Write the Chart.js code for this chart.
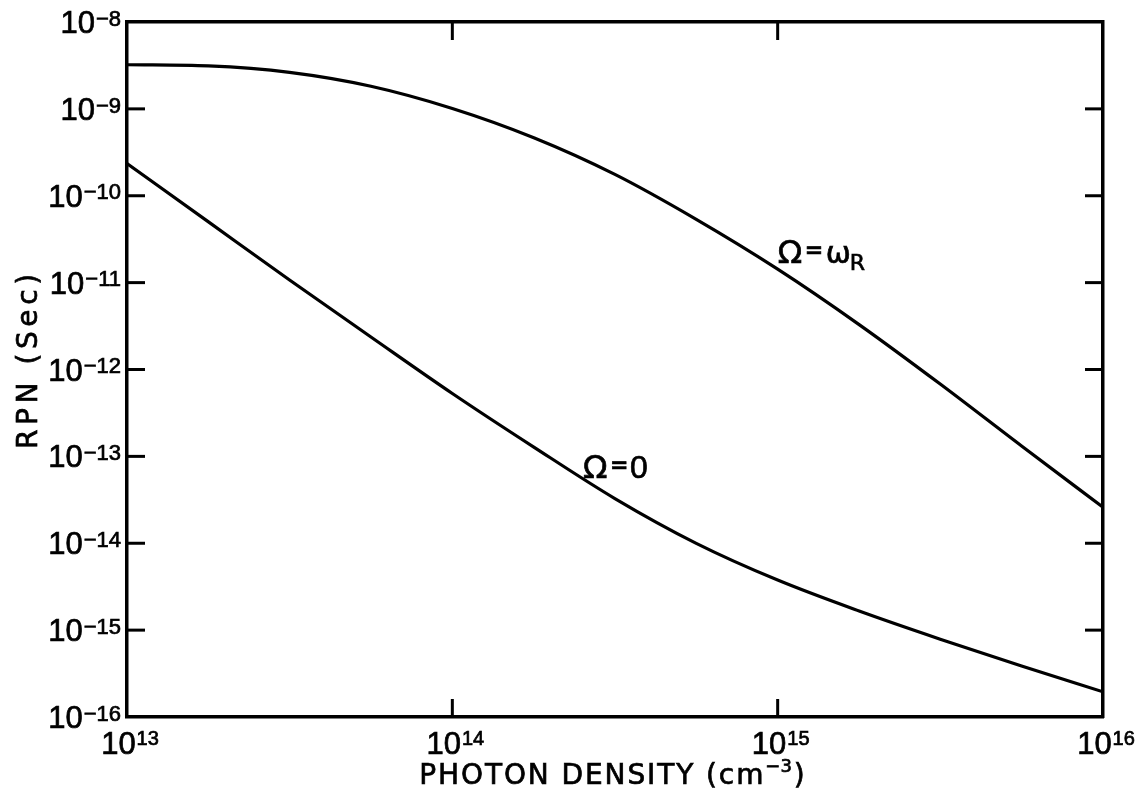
<!DOCTYPE html>
<html>
<head>
<meta charset="utf-8">
<script src="https://cdn.jsdelivr.net/npm/chart.js@4.4.1/dist/chart.umd.min.js"></script>
<style>
  html, body { margin: 0; padding: 0; background: #fff; }
  #wrap { width: 1145px; height: 809px; position: relative; }
</style>
</head>
<body>
<div id="wrap"><canvas id="rpnChart" width="1145" height="809"></canvas></div>
<script>
// Photon density (cm^-3), quarter-decade sample points shared by both curves
const photonDensity = [1e13, 1.78e13, 3.16e13, 5.62e13, 1e14, 1.78e14, 3.16e14, 5.62e14, 1e15, 1.78e15, 3.16e15, 5.62e15, 1e16];
// RPN (s) with modulation frequency at the relaxation resonance
const rpnResonant = [3.22e-9, 3.12e-9, 2.63e-9, 1.82e-9, 1.01e-9, 4.65e-10, 1.76e-10, 5.35e-11, 1.43e-11, 3.29e-12, 6.8e-13, 1.315e-13, 2.6e-14];
// RPN (s) at zero modulation frequency
const rpnZero = [2.35e-10, 5.0e-11, 1.07e-11, 2.37e-12, 5.3e-13, 1.28e-13, 3.27e-14, 9.98e-15, 3.77e-15, 1.66e-15, 7.87e-16, 3.86e-16, 1.95e-16];
// Decade exponents shown on the axes
const xTickExponents = [13, 14, 15, 16];
const yTickExponents = [-8, -9, -10, -11, -12, -13, -14, -15, -16];
const xTitle = 'PHOTON DENSITY (cm';
const xTitleUnitExp = '−3';
const yTitle = 'RPN (Sec)';

const INK = '#000';
const NUM_FONT = '"Liberation Sans", Arial, sans-serif';
const TXT_FONT = '"DejaVu Sans", "Liberation Sans", sans-serif';
const INK_SPREAD = 0.7;   // slight stroke to give the lettering a pen weight

function ink(ctx, s, x, y) {
  ctx.fillText(s, x, y);
  ctx.strokeText(s, x, y);
}

function expText(e) { return e < 0 ? '−' + Math.abs(e) : String(e); }

// "10" with a raised exponent; yMid is the vertical centre of the "10"
function drawPower(ctx, e, x, yMid, align, ss) {
  const bs = 31;
  ctx.font = bs + 'px ' + NUM_FONT;
  const wb = ctx.measureText('10').width;
  const es = expText(e);
  ctx.font = ss + 'px ' + NUM_FONT;
  const we = ctx.measureText(es).width;
  const gap = 1;
  const total = wb + gap + we;
  const x0 = align === 'right' ? x - total : x - total / 2;
  const capB = bs * 0.716, capS = ss * 0.716;
  ctx.textAlign = 'left';
  ctx.textBaseline = 'alphabetic';
  ctx.font = bs + 'px ' + NUM_FONT;
  ink(ctx, '10', x0, yMid + capB / 2);
  ctx.font = ss + 'px ' + NUM_FONT;
  ink(ctx, es, x0 + wb + gap, yMid - capB / 2 - 1 + capS);
}

function spacedWidth(ctx, str, s) {
  let w = 0;
  for (const ch of str) w += ctx.measureText(ch).width + s;
  return w - s;
}
function drawSpaced(ctx, str, x, y, s) {
  for (const ch of str) { ink(ctx, ch, x, y); x += ctx.measureText(ch).width + s; }
  return x - s;
}

const platePlugin = {
  id: 'plateText',
  afterDraw(chart) {
    const ctx = chart.ctx;
    const xs = chart.scales.x, ys = chart.scales.y;
    const { left, right, top, bottom } = chart.chartArea;
    ctx.save();
    ctx.fillStyle = INK;
    ctx.strokeStyle = INK;
    ctx.lineCap = 'butt';
    const seg = (a, b, c, d) => { ctx.lineWidth = 3; ctx.beginPath(); ctx.moveTo(a, b); ctx.lineTo(c, d); ctx.stroke(); ctx.lineWidth = INK_SPREAD; };

    // inward tick marks on all four sides, with decade labels
    const TL = 18;
    yTickExponents.forEach(e => {
      const py = ys.getPixelForValue(Number('1e' + e));
      if (e !== yTickExponents[0] && e !== yTickExponents[yTickExponents.length - 1]) {
        seg(left, py, left + TL, py);
        seg(right, py, right - TL, py);
      }
      ctx.lineWidth = INK_SPREAD;
      drawPower(ctx, e, left - 6, py, 'right', 22);
    });
    xTickExponents.forEach(e => {
      const px = xs.getPixelForValue(Number('1e' + e));
      if (e !== xTickExponents[0] && e !== xTickExponents[xTickExponents.length - 1]) {
        seg(px, bottom, px, bottom - TL);
        seg(px, top, px, top + TL);
      }
      ctx.lineWidth = INK_SPREAD;
      drawPower(ctx, e, px + 3, bottom + 26, 'center', 20);
    });
    ctx.lineWidth = INK_SPREAD;

    // x-axis title with superscript unit
    const ts = 28, sp = 1.9;
    ctx.textAlign = 'left';
    ctx.textBaseline = 'alphabetic';
    ctx.font = ts + 'px ' + TXT_FONT;
    const wMain = spacedWidth(ctx, xTitle, sp);
    const wParen = ctx.measureText(')').width;
    ctx.font = '18px ' + TXT_FONT;
    const wSup = ctx.measureText(xTitleUnitExp).width;
    const totalW = wMain + sp + wSup + 2 + wParen;
    const cx = (left + right) / 2 - 3;
    const base = bottom + 67;
    let px = cx - totalW / 2;
    ctx.font = ts + 'px ' + TXT_FONT;
    px = drawSpaced(ctx, xTitle, px, base, sp) + sp;
    ctx.font = '18px ' + TXT_FONT;
    ink(ctx, xTitleUnitExp, px, base - 12);
    px += wSup + 2;
    ctx.font = ts + 'px ' + TXT_FONT;
    ink(ctx, ')', px, base);

    // y-axis title, rotated
    ctx.save();
    ctx.translate(left - 100, (top + bottom) / 2 - 8);
    ctx.rotate(-Math.PI / 2);
    ctx.font = ts + 'px ' + TXT_FONT;
    const spY = 4.6;
    const wy = spacedWidth(ctx, yTitle, spY);
    drawSpaced(ctx, yTitle, -wy / 2, ts * 0.729 / 2, spY);
    ctx.restore();

    // curve annotations
    const a1x = xs.getPixelForValue(1.0e15), a1y = ys.getPixelForValue(1.68e-11);
    ctx.font = '32px ' + TXT_FONT;
    ink(ctx, 'Ω', a1x, a1y);
    ctx.font = 'bold 22px ' + TXT_FONT;
    ink(ctx, '=', a1x + 27, a1y - 6);
    ctx.font = '30px ' + TXT_FONT;
    ink(ctx, 'ω', a1x + 48, a1y);
    ctx.font = '22px ' + TXT_FONT;
    ink(ctx, 'R', a1x + 72, a1y + 7);

    const a2x = xs.getPixelForValue(2.52e14), a2y = ys.getPixelForValue(5.67e-14);
    ctx.font = '32px ' + TXT_FONT;
    ink(ctx, 'Ω', a2x, a2y);
    ctx.font = 'bold 22px ' + TXT_FONT;
    ink(ctx, '=', a2x + 27, a2y - 6);
    ctx.font = '32px ' + NUM_FONT;
    ink(ctx, '0', a2x + 47, a2y);

    ctx.restore();
  }
};

function logAxis(axis, position, min, max) {
  return {
    type: 'logarithmic', axis, position, min, max, display: true,
    ticks: { display: false },
    grid: { display: false, drawTicks: false },
    border: { display: true, color: INK, width: 3.5 }
  };
}

const toPoints = ys => photonDensity.map((x, i) => ({ x, y: ys[i] }));

new Chart(document.getElementById('rpnChart'), {
  type: 'line',
  data: {
    datasets: [
      { label: 'Ω = ωR', data: toPoints(rpnResonant), borderColor: INK, borderWidth: 3.2,
        pointRadius: 0, cubicInterpolationMode: 'monotone', fill: false },
      { label: 'Ω = 0', data: toPoints(rpnZero), borderColor: INK, borderWidth: 3.2,
        pointRadius: 0, cubicInterpolationMode: 'monotone', fill: false }
    ]
  },
  options: {
    responsive: false,
    animation: false,
    devicePixelRatio: 1,
    layout: { padding: { left: 127, right: 42, top: 22, bottom: 92 } },
    plugins: { legend: { display: false }, tooltip: { enabled: false } },
    scales: {
      x: logAxis('x', 'bottom', 1e13, 1e16),
      x2: logAxis('x', 'top', 1e13, 1e16),
      y: logAxis('y', 'left', 1e-16, 1e-8),
      y2: logAxis('y', 'right', 1e-16, 1e-8)
    }
  },
  plugins: [platePlugin]
});
</script>
</body>
</html>
